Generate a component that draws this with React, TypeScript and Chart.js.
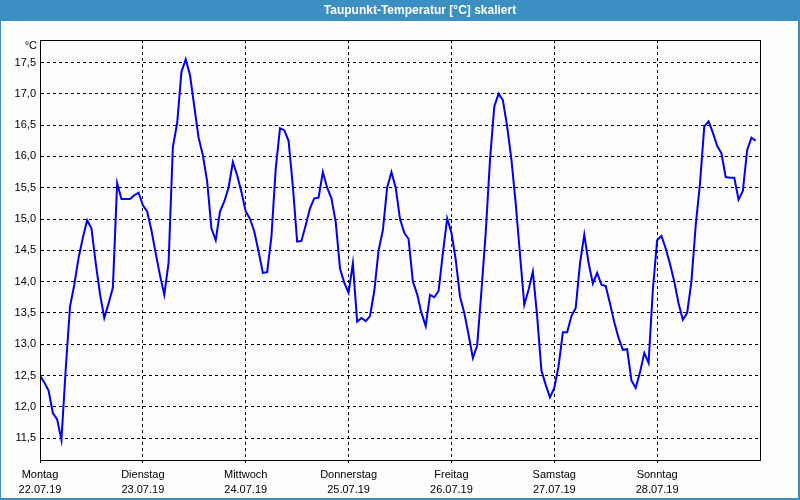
import React, { useEffect, useRef } from "react";
import { Chart, registerables } from "chart.js";

Chart.register(...registerables);

const TITLE = "Taupunkt-Temperatur [°C] skaliert";
const UNIT = "°C";

const dayNames = ["Montag", "Dienstag", "Mittwoch", "Donnerstag", "Freitag", "Samstag", "Sonntag"];
const dayDates = ["22.07.19", "23.07.19", "24.07.19", "25.07.19", "26.07.19", "27.07.19", "28.07.19"];
const dayTickHours = [0, 24, 48, 72, 96, 120, 144];
const yTickValues = [11.5, 12, 12.5, 13, 13.5, 14, 14.5, 15, 15.5, 16, 16.5, 17, 17.5];

// hourly dew point values (°C), one array per day
const monday = [12.5, 12.39, 12.26, 11.9, 11.8, 11.47, 12.6, 13.6, 13.95, 14.38, 14.7, 14.98,
  14.85, 14.3, 13.8, 13.42, 13.65, 13.9, 15.57, 15.32, 15.32, 15.32, 15.38, 15.42];
const tuesday = [15.22, 15.12, 14.82, 14.45, 14.1, 13.79, 14.3, 16.15, 16.53, 17.35, 17.55, 17.3,
  16.8, 16.3, 16.02, 15.6, 14.85, 14.66, 15.12, 15.28, 15.5, 15.91, 15.7, 15.43];
const wednesday = [15.12, 15.0, 14.8, 14.48, 14.14, 14.15, 14.72, 15.8, 16.45, 16.42, 16.25, 15.52,
  14.64, 14.65, 14.9, 15.17, 15.33, 15.34, 15.75, 15.5, 15.33, 14.95, 14.21, 13.98];
const thursday = [13.82, 14.29, 13.36, 13.42, 13.37, 13.45, 13.85, 14.5, 14.82, 15.5, 15.75, 15.5,
  15.0, 14.78, 14.68, 14.0, 13.8, 13.5, 13.29, 13.79, 13.75, 13.85, 14.45, 15.01];
const friday = [14.78, 14.35, 13.76, 13.5, 13.15, 12.78, 12.98, 13.85, 14.78, 15.94, 16.8, 17.0,
  16.9, 16.48, 15.95, 15.25, 14.43, 13.63, 13.87, 14.16, 13.45, 12.58, 12.35, 12.15];
const saturday = [12.3, 12.65, 13.19, 13.19, 13.45, 13.58, 14.29, 14.75, 14.3, 13.97, 14.14, 13.95,
  13.93, 13.65, 13.35, 13.1, 12.91, 12.92, 12.42, 12.3, 12.55, 12.86, 12.7, 13.87];
const sunday = [14.66, 14.73, 14.53, 14.28, 14.0, 13.65, 13.39, 13.5, 14.0, 14.9, 15.57, 16.48,
  16.56, 16.38, 16.17, 16.05, 15.67, 15.66, 15.66, 15.31, 15.45, 16.1, 16.3, 16.25];

const hourlyValues = [...monday, ...tuesday, ...wednesday, ...thursday, ...friday, ...saturday, ...sunday];

const FONT = '"Liberation Sans", Arial, sans-serif';
const BAR_COLOR = "#3b8fc3";

const framePlugin = {
  id: "frame",
  beforeDraw(chart: any) {
    const { ctx, width, height } = chart;
    ctx.save();
    ctx.fillStyle = "#fcfdfc";
    ctx.fillRect(0, 0, width, height);
    ctx.fillStyle = BAR_COLOR;
    ctx.fillRect(0, 0, width, 21);
    ctx.fillRect(0, 0, 1, height);
    ctx.fillRect(width - 2, 0, 2, height);
    ctx.fillRect(0, height - 2, width, 2);
    ctx.fillStyle = "#ffffff";
    ctx.font = "bold 12px " + FONT;
    ctx.textAlign = "center";
    ctx.textBaseline = "middle";
    ctx.fillText(TITLE, 420, 11);
    ctx.fillStyle = "#000000";
    ctx.font = "11px " + FONT;
    ctx.textAlign = "right";
    ctx.fillText(UNIT, 37, 46);
    ctx.restore();
  },
  afterDraw(chart: any) {
    const { ctx, chartArea } = chart;
    ctx.save();
    ctx.strokeStyle = "#000000";
    ctx.lineWidth = 1;
    ctx.setLineDash([]);
    ctx.strokeRect(chartArea.left + 0.5, chartArea.top + 0.5, chartArea.right - chartArea.left, chartArea.bottom - chartArea.top);
    ctx.restore();
  },
};

export default function App() {
  const canvasRef = useRef<HTMLCanvasElement | null>(null);

  useEffect(() => {
    if (!canvasRef.current) return;
    const points = hourlyValues.map((v, i) => ({ x: i, y: v }));
    const chart = new Chart(canvasRef.current, {
      type: "line",
      data: {
        datasets: [
          {
            data: points,
            borderColor: "#0000f0",
            borderWidth: 2,
            pointRadius: 0,
            tension: 0,
            fill: false,
          },
        ],
      },
      options: {
        animation: false,
        responsive: false,
        devicePixelRatio: 1,
        events: [],
        layout: { padding: { top: 40, right: 40, left: 0, bottom: 0 } },
        plugins: {
          legend: { display: false },
          title: { display: false },
          tooltip: { enabled: false },
        },
        scales: {
          x: {
            type: "linear",
            min: 0,
            max: 168,
            afterBuildTicks: (scale: any) => {
              scale.ticks = dayTickHours.map((v) => ({ value: v }));
            },
            afterFit: (scale: any) => {
              scale.height = 40;
            },
            grid: {
              color: "#000000",
              lineWidth: 1,
              drawTicks: true,
              tickLength: 3,
              tickColor: "#000000",
            },
            border: { display: true, color: "#000000", width: 1, dash: [3, 3] },
            ticks: {
              autoSkip: false,
              maxRotation: 0,
              padding: 4,
              color: "#000000",
              font: { family: FONT, size: 11, lineHeight: "15px" },
              callback: (value: any) => {
                const i = dayTickHours.indexOf(Number(value));
                return i >= 0 ? [dayNames[i], dayDates[i]] : "";
              },
            },
          },
          y: {
            type: "linear",
            min: 11.15,
            max: 17.86,
            afterBuildTicks: (scale: any) => {
              scale.ticks = yTickValues.map((v) => ({ value: v }));
            },
            afterFit: (scale: any) => {
              scale.width = 40;
            },
            grid: {
              color: "#000000",
              lineWidth: 1,
              drawTicks: false,
            },
            border: { display: true, color: "#000000", width: 1, dash: [3, 3] },
            ticks: {
              padding: 4,
              color: "#000000",
              font: { family: FONT, size: 11 },
              callback: (value: any) => Number(value).toFixed(1).replace(".", ","),
            },
          },
        },
      },
      plugins: [framePlugin],
    });
    return () => chart.destroy();
  }, []);

  return (
    <div style={{ position: "absolute", left: 0, top: 0, width: 800, height: 500 }}>
      <canvas ref={canvasRef} width={800} height={500} style={{ display: "block", width: 800, height: 500 }} />
    </div>
  );
}
